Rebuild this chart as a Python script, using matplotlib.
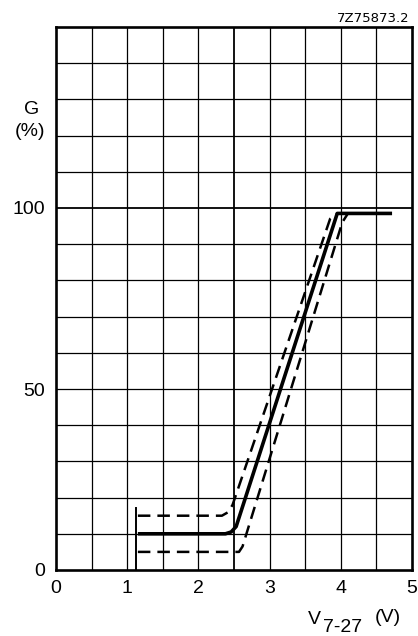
import matplotlib
matplotlib.use("Agg")
import matplotlib.pyplot as plt
import numpy as np

plt.rcParams['font.family'] = ['Liberation Sans', 'DejaVu Sans']

# Data
x_ticks = [0, 1, 2, 3, 4, 5]
y_ticks = [0, 50, 100]

solid_x = [1.15, 2.38, 2.46, 2.53, 3.95, 4.72]
solid_y = [10, 10, 10.5, 12, 98.5, 98.5]

upper_x = [1.15, 2.33, 2.42, 2.48, 3.85, 3.95]
upper_y = [15, 15, 16, 18, 97, 98.5]

lower_x = [1.15, 2.57, 2.62, 4.02, 4.10]
lower_y = [5, 5, 6.5, 96, 98.5]

marker_x = [1.13, 1.13]
marker_y = [0, 17]

W, H = 418, 636
fig = plt.figure(figsize=(W / 100, H / 100), dpi=100)
left, right, top, bottom = 56, 412, 27, 570
ax = fig.add_axes([left / W, 1 - bottom / H, (right - left) / W, (bottom - top) / H])
ax.set_xlim(0, 5)
ax.set_ylim(0, 150)

# grid
for xv in np.arange(0.5, 5.0, 0.5):
    ax.axvline(xv, color='black', lw=1.3 if abs(xv - 2.5) < 1e-6 else 0.9, zorder=1)
for yv in np.arange(10, 150, 10):
    ax.axhline(yv, color='black', lw=1.3 if yv == 100 else 0.9, zorder=1)

ax.plot(marker_x, marker_y, color='black', lw=1.4, zorder=2)
ax.plot(solid_x, solid_y, color='black', lw=2.6, solid_capstyle='butt', zorder=3)
ax.plot(upper_x, upper_y, color='black', lw=1.8, dashes=(5, 2.8), zorder=3)
ax.plot(lower_x, lower_y, color='black', lw=1.8, dashes=(5, 2.8), zorder=3)

for s in ax.spines.values():
    s.set_linewidth(1.9)
    s.set_color('black')

ax.set_xticks(x_ticks)
ax.set_xticklabels([str(v) for v in x_ticks])
ax.set_yticks(y_ticks)
ax.set_yticklabels([str(v) for v in y_ticks])
ax.tick_params(axis='both', length=0, labelsize=14)
ax.tick_params(axis='x', pad=7)
ax.tick_params(axis='y', pad=8)

def fx(px):
    return px / W

def fy(py):
    return 1 - py / H

fig.text(fx(32), fy(110), 'G', fontsize=14, ha='center', va='center')
fig.text(fx(30), fy(131), '(%)', fontsize=14, ha='center', va='center')
fig.text(fx(337), fy(18), '7Z75873.2', fontsize=9.5, family='DejaVu Sans',
         ha='left', va='center')
fig.text(fx(314), fy(620), 'V', fontsize=14, ha='center', va='center')
fig.text(fx(343), fy(628), '7-27', fontsize=14, ha='center', va='center')
fig.text(fx(388), fy(618), '(V)', fontsize=14, ha='center', va='center')

fig.savefig('out.png', dpi=100)
